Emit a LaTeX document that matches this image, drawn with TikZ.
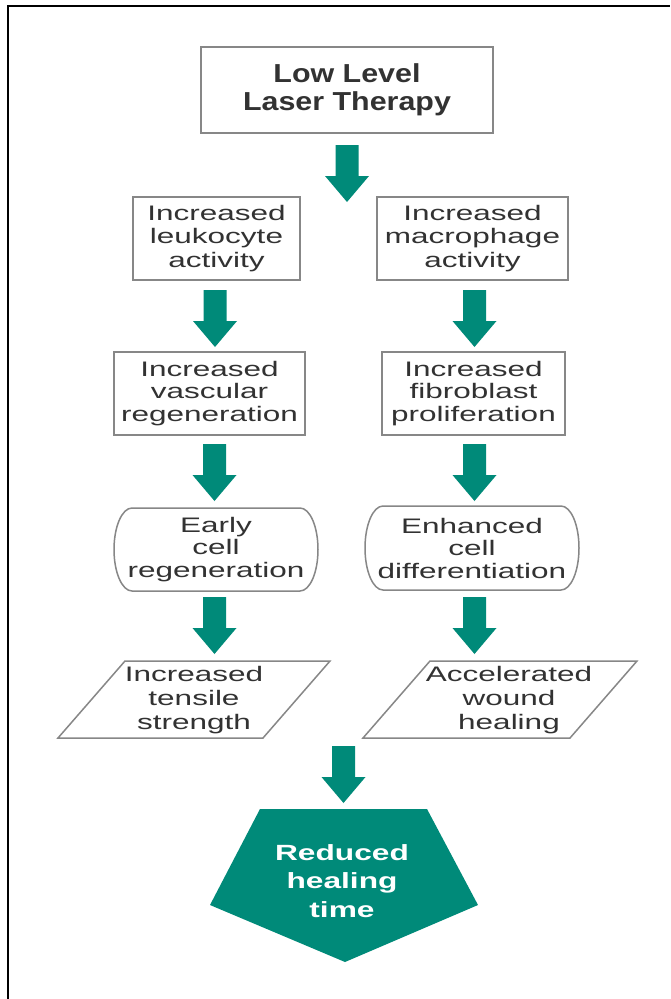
\documentclass[tikz,border=0pt]{standalone}
\usepackage{fontspec}
\newfontfamily\bodyfont{Liberation Sans}[FakeStretch=1.5]
\newfontfamily\titlefont{Liberation Sans}[FakeStretch=1.17]
\newfontfamily\redfont{Liberation Sans}[FakeStretch=1.44]
\definecolor{tealfill}{RGB}{0,138,121}
\definecolor{boxline}{RGB}{135,135,135}
\definecolor{txt}{RGB}{50,50,50}
\tikzset{
  box/.style={draw=boxline, line width=1.5pt, inner sep=0pt, text=txt, align=center,
    font=\bodyfont\fontsize{21}{23.5}\selectfont},
  plain/.style={inner sep=0pt, text=txt, align=center, font=\bodyfont\fontsize{21}{24}\selectfont},
  shapeline/.style={draw=boxline, line width=1.5pt},
  blockarr/.pic={\fill[tealfill] (-11.5,0) -- (11.5,0) -- (11.5,31) -- (22,31) -- (0,57) -- (-22,31) -- (-11.5,31) -- cycle;}
}
\begin{document}
\begin{tikzpicture}[x=1pt,y=-1pt]
\useasboundingbox (0,0) rectangle (670,999);
\fill[white] (0,0) rectangle (670,999);
% frame
\draw[line width=2pt] (7.5,999) -- (7.5,5.5) -- (670,5.5);

% top box
\node[box, minimum width=292pt, minimum height=86pt,
  font=\titlefont\bfseries\fontsize{26}{28}\selectfont] (top) at (347,90) {Low Level\\Laser Therapy};

% column boxes
\node[box, minimum width=167pt, minimum height=83pt] (l1) at (216.5,238.5) {Increased\\leukocyte\\activity};
\node[box, minimum width=191pt, minimum height=83pt] (r1) at (472.5,238.5) {Increased\\macrophage\\activity};
\node[box, minimum width=191pt, minimum height=83pt, font=\bodyfont\fontsize{21}{22.5}\selectfont] (l2) at (209.5,393.5) {Increased\\vascular\\regeneration};
\node[box, minimum width=183pt, minimum height=83pt, font=\bodyfont\fontsize{21}{22.5}\selectfont] (r2) at (473.5,393.5) {Increased\\fibroblast\\proliferation};

% rounded boxes
\draw[shapeline] (132,508) -- (300,508)
  arc[start angle=-90, end angle=90, x radius=18, y radius=41.5]
  -- (132,591)
  arc[start angle=90, end angle=270, x radius=18, y radius=41.5] -- cycle;
\node[plain, font=\bodyfont\fontsize{21}{22.5}\selectfont] (l3) at (216,549.5) {Early\\cell\\regeneration};
\draw[shapeline] (383,506) -- (561,506)
  arc[start angle=-90, end angle=90, x radius=18, y radius=42]
  -- (383,590)
  arc[start angle=90, end angle=270, x radius=18, y radius=42] -- cycle;
\node[plain, font=\bodyfont\fontsize{21}{22.5}\selectfont] (r3) at (472,548) {Enhanced\\cell\\differentiation};

% parallelograms
\coordinate (pl1) at (125,661); \coordinate (pl2) at (330,661);
\coordinate (pl3) at (263,738); \coordinate (pl4) at (58,738);
\draw[shapeline] (pl1) -- (pl2) -- (pl3) -- (pl4) -- cycle;
\node[plain] (l4) at (194,700) {Increased\\tensile\\strength};
\coordinate (pr1) at (430,661); \coordinate (pr2) at (637,661);
\coordinate (pr3) at (570,738); \coordinate (pr4) at (363,738);
\draw[shapeline] (pr1) -- (pr2) -- (pr3) -- (pr4) -- cycle;
\node[plain] (r4) at (509,700) {Accelerated\\wound\\healing};

% final pentagon
\coordinate (p1) at (260,809); \coordinate (p2) at (427,809);
\coordinate (p3) at (478,905); \coordinate (p4) at (345,962);
\coordinate (p5) at (210,905);
\fill[tealfill] (p1) -- (p2) -- (p3) -- (p4) -- (p5) -- cycle;
\node[inner sep=0pt, align=center, text=white, font=\redfont\bfseries\fontsize{22}{28.5}\selectfont] (res) at (342,881) {Reduced\\healing\\time};

% block arrows
\pic at (347,145) {blockarr};
\pic at (215,290) {blockarr};
\pic at (474.5,290) {blockarr};
\pic at (214.5,444) {blockarr};
\pic at (474.5,444) {blockarr};
\pic at (214.5,597) {blockarr};
\pic at (474.5,597) {blockarr};
\pic at (343.5,746) {blockarr};
\end{tikzpicture}
\end{document}
